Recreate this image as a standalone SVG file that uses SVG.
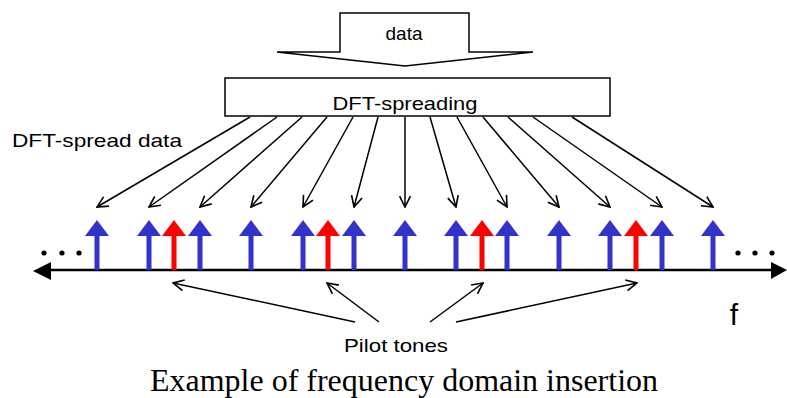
<svg xmlns="http://www.w3.org/2000/svg" xmlns:xlink="http://www.w3.org/1999/xlink" width="787" height="398" viewBox="0 0 787 398">
<style>
.lbl{font-family:"Liberation Sans",Arial,sans-serif;fill:#000}
.ln{stroke:#000;stroke-width:1.5;fill:none}
.box{fill:#fff;stroke:#000;stroke-width:1.5}
.blue{fill:#3333CC}
.red{fill:#FF0000}
</style>
<defs>
<marker id="open" viewBox="0 0 12 12" refX="11" refY="6" markerWidth="13" markerHeight="13" markerUnits="userSpaceOnUse" orient="auto">
<path d="M1,1 L11,6 L1,11" fill="none" stroke="#000" stroke-width="1.5"/>
</marker>
<g id="tone">
<polygon points="0,220 12,236 -12,236"/>
<rect x="-2.5" y="235" width="5" height="35"/>
</g>
</defs>
<rect width="787" height="398" fill="#fff"/>

<g id="data">
<polygon class="box" points="340,13 469,13 469,52 533,52 405,66 277,52 340,52"/>
<text class="lbl" x="404" y="40" font-size="19" text-anchor="middle">data</text>
</g>

<g id="dft-spreading">
<rect class="box" x="225" y="78" width="385" height="38"/>
<text class="lbl" x="405" y="110" font-size="19" text-anchor="middle" textLength="145" lengthAdjust="spacingAndGlyphs">DFT-spreading</text>
</g>

<g id="dft-spread-label">
<text class="lbl" x="12" y="147" font-size="19" textLength="170" lengthAdjust="spacingAndGlyphs">DFT-spread data</text>
</g>

<g id="axis">
<line x1="45" y1="270" x2="776" y2="270" stroke="#000" stroke-width="2.5"/>
<polygon points="33,271 51,262 51,280" fill="#000"/>
<polygon points="787,270 771,262 771,279" fill="#000"/>
<circle cx="44" cy="253" r="2.6" fill="#000"/>
<circle cx="62" cy="253" r="2.6" fill="#000"/>
<circle cx="79" cy="253" r="2.6" fill="#000"/>
<circle cx="738" cy="253" r="2.6" fill="#000"/>
<circle cx="755" cy="253" r="2.6" fill="#000"/>
<circle cx="772" cy="253" r="2.6" fill="#000"/>
<text class="lbl" x="734" y="325" font-size="30" text-anchor="middle">f</text>
</g>

<g id="tones">
<use xlink:href="#tone" class="blue" x="97"/>
<use xlink:href="#tone" class="blue" x="149"/>
<use xlink:href="#tone" class="red" x="174"/>
<use xlink:href="#tone" class="blue" x="200"/>
<use xlink:href="#tone" class="blue" x="251"/>
<use xlink:href="#tone" class="blue" x="303"/>
<use xlink:href="#tone" class="red" x="328"/>
<use xlink:href="#tone" class="blue" x="354"/>
<use xlink:href="#tone" class="blue" x="405"/>
<use xlink:href="#tone" class="blue" x="456"/>
<use xlink:href="#tone" class="red" x="482"/>
<use xlink:href="#tone" class="blue" x="507"/>
<use xlink:href="#tone" class="blue" x="559"/>
<use xlink:href="#tone" class="blue" x="610"/>
<use xlink:href="#tone" class="red" x="636"/>
<use xlink:href="#tone" class="blue" x="662"/>
<use xlink:href="#tone" class="blue" x="713"/>
</g>

<g id="connectors" class="ln" marker-end="url(#open)">
<line x1="250" y1="117" x2="97" y2="207"/>
<line x1="277" y1="117" x2="149" y2="207"/>
<line x1="302" y1="117" x2="200" y2="207"/>
<line x1="327" y1="117" x2="251" y2="207"/>
<line x1="353" y1="117" x2="303" y2="207"/>
<line x1="378" y1="117" x2="354" y2="207"/>
<line x1="405" y1="117" x2="405" y2="207"/>
<line x1="430" y1="117" x2="456" y2="207"/>
<line x1="457" y1="117" x2="507" y2="207"/>
<line x1="483" y1="117" x2="559" y2="207"/>
<line x1="508" y1="117" x2="610" y2="207"/>
<line x1="533" y1="117" x2="662" y2="207"/>
<line x1="572" y1="117" x2="713" y2="207"/>
<line x1="355" y1="322" x2="173" y2="283"/>
<line x1="379" y1="322" x2="327" y2="283"/>
<line x1="430" y1="322" x2="483" y2="283"/>
<line x1="456" y1="322" x2="637" y2="283"/>
</g>

<g id="pilot-label">
<text class="lbl" x="344" y="352" font-size="19" textLength="104" lengthAdjust="spacingAndGlyphs">Pilot tones</text>
</g>

<g id="caption">
<text x="150" y="391" font-family="'Liberation Serif','Times New Roman',serif" font-size="32" fill="#000" textLength="508" lengthAdjust="spacingAndGlyphs">Example of frequency domain insertion</text>
</g>
</svg>
